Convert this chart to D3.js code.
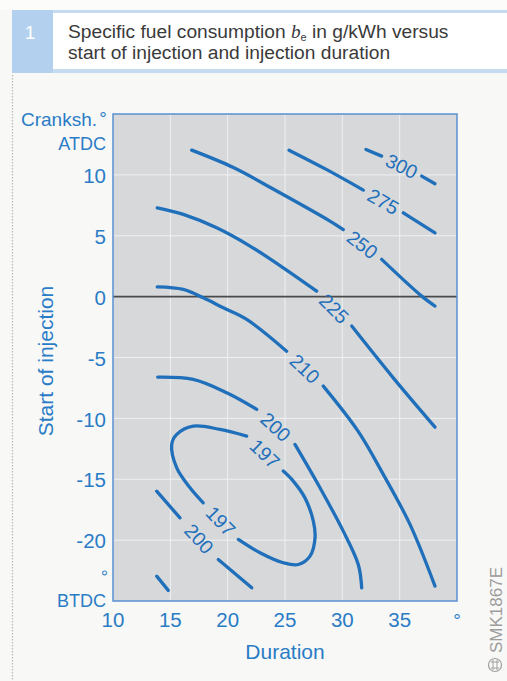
<!DOCTYPE html>
<html><head><meta charset="utf-8">
<script src="https://cdn.jsdelivr.net/npm/d3@7"></script>
<style>
body{margin:0;background:#f8f8f6;}
svg{display:block;font-family:"Liberation Sans",Arial,Helvetica,sans-serif;}
</style>
</head><body>
<svg id="chart" width="507" height="681"></svg>
<script>
// ---- data (duration in degrees crankshaft, start of injection in degrees) ----
const xTicks = [10, 15, 20, 25, 30, 35];
const yTicks = [-20, -15, -10, -5, 0, 5, 10];
const xGrid = [15, 20, 25, 30, 35];
const yGrid = [-20, -15, -10, -5, 5, 10];
const xDomain = [10, 40];
const yDomain = [-25, 15];

// each contour: list of segments; a label sits in the gap between consecutive segments
const c300 = [[[32.06,12.09],[33.43,11.54]], [[36.92,9.90],[38.08,9.27]]];
const c275 = [[[25.35,12.03],[28.6,10.45],[31.83,8.75]], [[35.32,6.88],[38.08,5.24]]];
const c250 = [[[16.86,12.03],[20.5,10.6],[24.28,8.67],[28.92,6.2],[30.08,5.5]],
              [[33.43,3.06],[36.92,0.04],[38.08,-0.78]]];
const c225 = [[[13.86,7.29],[16.13,6.75],[19.04,5.65],[21.95,4.15],[24.85,2.37],[27.76,0.45]],
              [[30.82,-2.42],[34.44,-6.67],[38.08,-10.72]]];
const c210 = [[[13.86,0.80],[16.13,0.59],[17.87,-0.10],[19.62,-0.92],[21.66,-1.87],[25.14,-4.48]],
              [[28.34,-7.35],[31.37,-11.05],[33.57,-14.6],[35.9,-18.71],[38.08,-23.78]]];
const c210low = [[[13.81,-22.96],[14.82,-24.13]]];
const c200 = [[[13.9,-6.61],[17.0,-6.8],[19.92,-7.9],[22.53,-9.26]],
              [[25.87,-12.14],[28.05,-15.7],[30.08,-19.26],[31.39,-22.0],[31.69,-23.92]]];
const c200low = [[[13.81,-15.98],[15.84,-18.17]], [[19.18,-21.59],[22.1,-23.92]]];
const c197 = [[[21.66,-11.46],[19.33,-10.91],[17.0,-10.64],[15.56,-11.32],[15.12,-12.14],[15.56,-14.06],[16.72,-15.70],[17.87,-16.94]],
              [[20.93,-19.94],[22.82,-21.04],[24.85,-21.86],[26.16,-22.0],[27.18,-21.31],[27.62,-19.81],[27.47,-18.44],[26.74,-16.53],[25.72,-15.15],[24.85,-14.33]]];

const contours = [
  {value: 300, segs: c300},
  {value: 275, segs: c275},
  {value: 250, segs: c250},
  {value: 225, segs: c225},
  {value: 210, segs: c210},
  {value: 210, segs: c210low},
  {value: 200, segs: c200},
  {value: 200, segs: c200low},
  {value: 197, segs: c197, closed: true}
];

// ---- drawing ----
const BLUE = "#1f6fba";
const TXT = "#2a7cc6";
const svg = d3.select("#chart");

// page background
svg.append("rect").attr("width", 507).attr("height", 681).attr("fill", "#f8f8f6");
svg.append("rect").attr("width", 507).attr("height", 10).attr("fill", "#fcfcfb");

// header
svg.append("rect").attr("x", 12).attr("y", 10).attr("width", 495).attr("height", 63).attr("fill", "#c6dbef");
svg.append("rect").attr("x", 12).attr("y", 10).attr("width", 41).attr("height", 63).attr("fill", "#b3d1ee");
svg.append("rect").attr("x", 53).attr("y", 13).attr("width", 454).attr("height", 56).attr("fill", "#ffffff");
svg.append("text").attr("x", 30).attr("y", 39).attr("text-anchor", "middle")
  .attr("font-size", 19).attr("fill", "#ffffff").text("1");
const t1 = svg.append("text").attr("x", 68).attr("y", 37.5).attr("font-size", 19.2).attr("fill", "#3a3a3a");
t1.append("tspan").text("Specific fuel consumption ");
t1.append("tspan").attr("font-family", "'Liberation Serif','DejaVu Serif',serif").attr("font-style", "italic").text("b");
t1.append("tspan").attr("font-size", 11).attr("dy", 3).text("e");
t1.append("tspan").attr("dy", -3).text(" in g/kWh versus");
svg.append("text").attr("x", 68).attr("y", 59).attr("font-size", 19.2).attr("fill", "#3a3a3a")
  .text("start of injection and injection duration");

// dotted left frame
svg.append("line").attr("x1", 12.5).attr("x2", 12.5).attr("y1", 75).attr("y2", 681)
  .attr("stroke", "#b9b9b9").attr("stroke-width", 1.2).attr("stroke-dasharray", "1.5,1.5");

// scales
const x = d3.scaleLinear().domain(xDomain).range([113, 457]);
const y = d3.scaleLinear().domain(yDomain).range([601, 114]);

// plot background
svg.append("rect").attr("x", x(xDomain[0])).attr("y", y(yDomain[1]))
  .attr("width", x(xDomain[1]) - x(xDomain[0])).attr("height", y(yDomain[0]) - y(yDomain[1]))
  .attr("fill", "#d6d8da");

// grid
svg.append("g").selectAll("line").data(xGrid).join("line")
  .attr("x1", d => x(d)).attr("x2", d => x(d)).attr("y1", y(yDomain[1])).attr("y2", y(yDomain[0]))
  .attr("stroke", "#eef0f1").attr("stroke-width", 1);
svg.append("g").selectAll("line").data(yGrid).join("line")
  .attr("y1", d => y(d)).attr("y2", d => y(d)).attr("x1", x(xDomain[0])).attr("x2", x(xDomain[1]))
  .attr("stroke", "#eef0f1").attr("stroke-width", 1);
// zero line
svg.append("line").attr("x1", x(xDomain[0])).attr("x2", x(xDomain[1])).attr("y1", y(0)).attr("y2", y(0))
  .attr("stroke", "#4a4a4a").attr("stroke-width", 1.6);

// frame
svg.append("rect").attr("x", x(xDomain[0])).attr("y", y(yDomain[1]))
  .attr("width", x(xDomain[1]) - x(xDomain[0])).attr("height", y(yDomain[0]) - y(yDomain[1]))
  .attr("fill", "none").attr("stroke", "#5a8fd2").attr("stroke-width", 1.5);

// contours
const line = d3.line().x(d => x(d[0])).y(d => y(d[1])).curve(d3.curveCatmullRom.alpha(0.5));
const gC = svg.append("g");
contours.forEach(c => {
  c.segs.forEach(s => {
    gC.append("path").attr("d", line(s)).attr("fill", "none").attr("stroke", BLUE)
      .attr("stroke-width", 3.3).attr("stroke-linecap", "round");
  });
  const n = c.segs.length;
  const gaps = [];
  for (let i = 0; i < n - 1; i++) gaps.push([c.segs[i][c.segs[i].length - 1], c.segs[i + 1][0]]);
  if (c.closed) gaps.push([c.segs[n - 1][c.segs[n - 1].length - 1], c.segs[0][0]]);
  gaps.forEach(([a, b]) => {
    const ax = x(a[0]), ay = y(a[1]), bx = x(b[0]), by = y(b[1]);
    let ang = Math.atan2(by - ay, bx - ax) * 180 / Math.PI;
    if (ang > 90) ang -= 180;
    if (ang < -90) ang += 180;
    const mx = (ax + bx) / 2, my = (ay + by) / 2;
    gC.append("text").attr("transform", `translate(${mx},${my}) rotate(${ang})`)
      .attr("text-anchor", "middle").attr("dy", "0.36em")
      .attr("font-size", 19.5).attr("fill", BLUE).text(c.value);
  });
});

// y tick labels
svg.append("g").selectAll("text").data(yTicks).join("text")
  .attr("x", 106).attr("y", d => y(d)).attr("dy", "0.4em").attr("text-anchor", "end")
  .attr("font-size", 20.5).attr("fill", TXT).text(d => d);
// x tick labels
svg.append("g").selectAll("text").data(xTicks).join("text")
  .attr("x", d => x(d)).attr("y", 627).attr("text-anchor", "middle")
  .attr("font-size", 20.5).attr("fill", TXT).text(d => d);

// unit annotations
svg.append("text").attr("x", 97).attr("y", 126).attr("text-anchor", "end").attr("font-size", 19).attr("fill", TXT).text("Cranksh.");
svg.append("text").attr("x", 103).attr("y", 125).attr("text-anchor", "middle").attr("font-size", 19).attr("fill", TXT).text("°");
svg.append("text").attr("x", 106).attr("y", 150).attr("text-anchor", "end").attr("font-size", 18).attr("fill", TXT).text("ATDC");
svg.append("text").attr("x", 106).attr("y", 607).attr("text-anchor", "end").attr("font-size", 18).attr("fill", TXT).text("BTDC");
svg.append("text").attr("transform", "translate(103,573) rotate(-90)").attr("text-anchor", "middle").attr("dy", "0.68em")
  .attr("font-size", 18).attr("fill", TXT).text("°");
svg.append("text").attr("x", 457).attr("y", 627).attr("text-anchor", "middle").attr("font-size", 19).attr("fill", TXT).text("°");

// axis titles
svg.append("text").attr("x", 285).attr("y", 659).attr("text-anchor", "middle")
  .attr("font-size", 21).attr("fill", TXT).text("Duration");
svg.append("text").attr("transform", "translate(53,361) rotate(-90)").attr("text-anchor", "middle")
  .attr("font-size", 21).attr("fill", TXT).text("Start of injection");

// code mark
svg.append("text").attr("transform", "translate(502,653) rotate(-90)").attr("text-anchor", "start")
  .attr("font-size", 17).attr("fill", "#9c9c9c").text("SMK1867E");
svg.append("circle").attr("cx", 495).attr("cy", 665).attr("r", 6.5).attr("fill", "none").attr("stroke", "#a0a0a0").attr("stroke-width", 1.2);
svg.append("path").attr("d", "M491,662 L499,662 M491,668 L499,668 M493,660 L493,670 M497,660 L497,670")
  .attr("stroke", "#a0a0a0").attr("stroke-width", 1);
</script>
</body></html>
